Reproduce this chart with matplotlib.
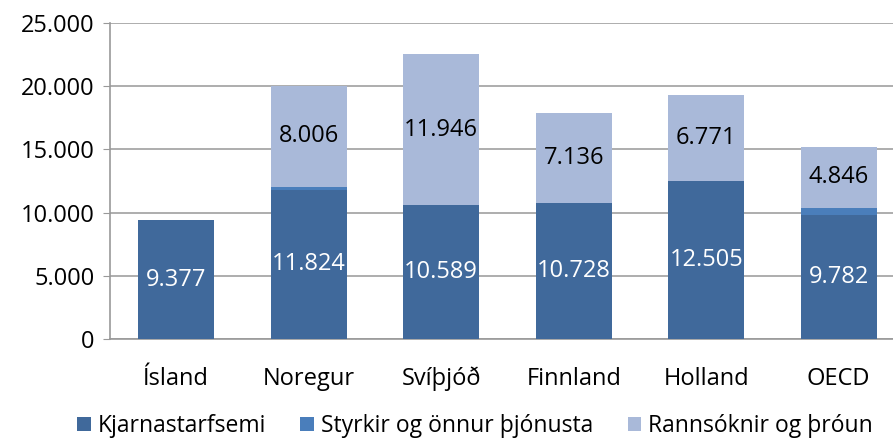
import numpy as np
import matplotlib
matplotlib.use("Agg")
import matplotlib.pyplot as plt

countries = ["Ísland", "Noregur", "Svíþjóð", "Finnland", "Holland", "OECD"]
kjarna = [9377, 11824, 10589, 10728, 12505, 9782]
styrkir = [0, 220, 0, 0, 0, 600]
rannsoknir = [0, 8006, 11946, 7136, 6771, 4846]
series_names = ["Kjarnastarfsemi", "Styrkir og önnur þjónusta", "Rannsóknir og þróun"]
colors = ["#40699B", "#4A7EBB", "#A9B9D9"]


def fmt(v):
    return f"{v:,}".replace(",", ".")


plt.rcParams['font.family'] = ['Open Sans', 'DejaVu Sans']

fig = plt.figure(figsize=(8.93, 4.41), dpi=100)
ax = fig.add_axes([110 / 893, 102 / 441, 795 / 893, 316 / 441])

x = np.arange(len(countries))
w = 0.57
bottom = np.zeros(len(countries))
for vals, name, col in zip([kjarna, styrkir, rannsoknir], series_names, colors):
    vals = np.array(vals, dtype=float)
    ax.bar(x, vals, w, bottom=bottom, color=col, label=name, zorder=3)
    bottom += vals

# data labels
for i in range(len(countries)):
    ax.text(x[i], kjarna[i] / 2, fmt(kjarna[i]), ha='center', va='center',
            color='white', fontsize=17, zorder=4)
    if rannsoknir[i] > 0:
        b = kjarna[i] + styrkir[i]
        ax.text(x[i], b + rannsoknir[i] / 2, fmt(rannsoknir[i]), ha='center',
                va='center', color='black', fontsize=17, zorder=4)

ax.set_xlim(-0.5, len(countries) - 0.5)
ax.set_ylim(0, 25000)
ax.set_yticks(range(0, 25001, 5000))
ax.set_yticklabels([fmt(v) for v in range(0, 25001, 5000)], fontsize=17)
ax.set_xticks(x)
ax.set_xticklabels(countries, fontsize=17)
ax.tick_params(axis='x', length=0, pad=20)
ax.tick_params(axis='y', length=5, color='#999999', pad=6)
ax.yaxis.grid(True, color='#A0A0A0', linewidth=1.2, zorder=0)
for s in ['top', 'right']:
    ax.spines[s].set_visible(False)
for s in ['left', 'bottom']:
    ax.spines[s].set_color('#999999')
    ax.spines[s].set_linewidth(1.2)

fig.legend(loc='center', bbox_to_anchor=(0.532, 1 - 426 / 441), ncol=3, frameon=False,
           fontsize=16.5, handlelength=0.6, handleheight=0.6, handletextpad=0.3,
           columnspacing=1.5)

fig.savefig("out.png", dpi=100)
